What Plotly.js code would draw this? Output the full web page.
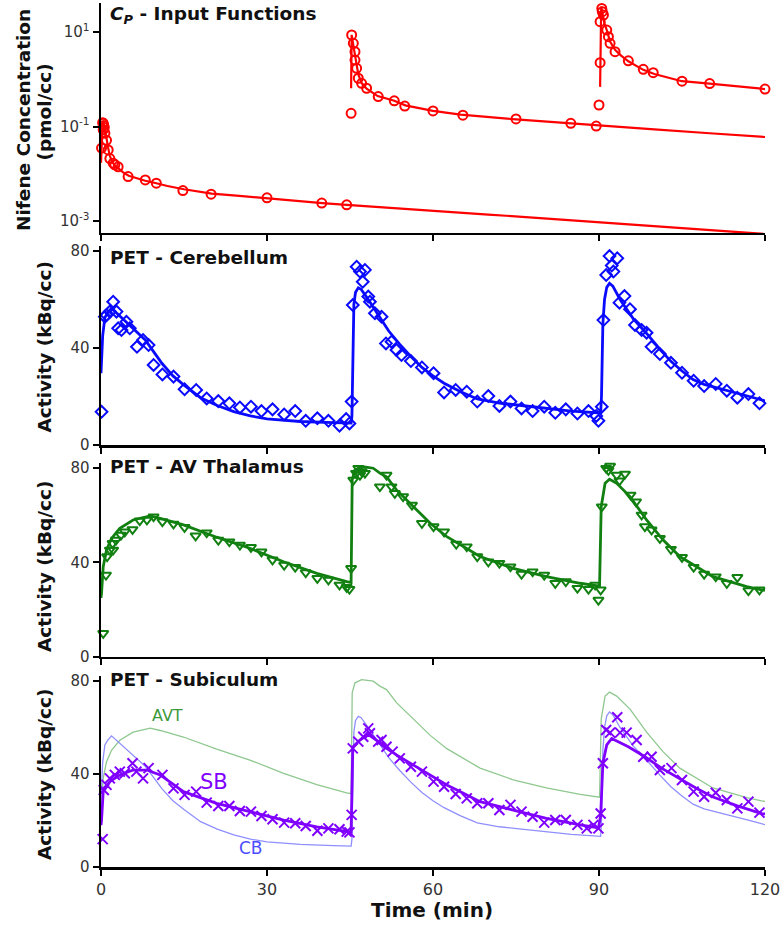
<!DOCTYPE html>
<html>
<head>
<meta charset="utf-8">
<script src="https://cdn.plot.ly/plotly-3.0.1.min.js"></script>
<style>html,body{margin:0;padding:0;background:#fff;}#chart{width:783px;height:929px;}</style>
</head>
<body>
<div id="chart"></div>
<script>
// ---------- Panel 1: plasma input function Cp (pmol/cc) ----------
const cpT = [0.1,0.3,0.4,0.5,0.6,0.7,0.4,1.0,1.3,1.6,2.2,2.5,3.1,4.9,8.0,10.0,14.8,19.9,30,39.9,44.4,
  45.2,45.3,45.6,45.9,45.9,46.2,46.5,47.1,48.0,50.1,53.0,54.9,60.0,65.4,75.0,84.9,89.5,
  90.0,90.2,90.2,90.5,90.6,90.8,91.4,91.7,92.0,92.9,95.3,98.0,99.8,105,110,120];
const cpV = [0.035,0.12,0.117,0.105,0.095,0.072,0.085,0.051,0.032,0.021,0.0167,0.0155,0.014,0.0087,0.0074,0.0063,0.0044,0.0037,0.0031,0.0024,0.0022,
  0.19,8.64,5.75,3.83,2.55,1.70,1.05,0.82,0.645,0.43,0.35,0.27,0.214,0.174,0.145,0.117,0.102,
  0.285,2.24,16.5,31.6,27,22.9,11.0,7.95,5.75,3.83,2.46,1.62,1.38,0.91,0.81,0.62];
const cpFit1T = [0,0.3,0.5,0.8,1.0,1.3,1.6,2.0,2.5,3.1,4,5,6.5,8,10,12,15,20,25,30,35,40,44.4,50,60,70,80,90,100,110,120];
const cpFit1V = [0.017,0.126,0.112,0.079,0.056,0.035,0.024,0.018,0.015,0.0132,0.0107,0.0091,0.0079,0.0071,0.0063,0.0055,0.0047,0.0038,0.0034,0.0030,0.0027,0.0024,0.0022,0.00197,0.00166,0.00137,0.00114,0.00094,0.00078,0.00064,0.00053];
const cpFit2T = [45.2,45.3,45.6,45.9,46.2,46.5,47.1,48.0,50,53,55,60,65,75,85,90,100,110,120];
const cpFit2V = [0.645,8.7,5.2,3.2,2.0,1.26,0.83,0.63,0.44,0.35,0.28,0.214,0.178,0.141,0.117,0.105,0.087,0.072,0.06];
const cpFit3T = [90.2,90.4,90.7,91.0,91.4,91.7,92.0,92.9,94,95.3,98,100,105,110,115,120];
const cpFit3V = [0.69,34.7,22.4,15.1,11,8.3,6.3,4.2,3.16,2.4,1.58,1.29,0.91,0.81,0.71,0.62];

// ---------- Panel 2: PET cerebellum (kBq/cc) ----------
const cbPtT = [0.1,0.7,1.0,1.6,2.2,2.8,3.1,3.7,4.6,5.2,6.5,7.6,8.6,9.5,11.1,13.1,15.1,17.2,19.1,21.2,23.2,25.1,27.1,29.0,31.0,33.1,35.1,37.0,39.1,41.1,43.1,44.3,44.9,
  45.3,45.5,46.2,46.8,47.7,47.3,48.3,48.6,49.5,50.7,51.5,52.5,53.4,54.3,56.0,58.0,60.1,62.0,64.1,66.1,68.0,70.0,72.0,74.0,76.0,78.0,80.1,82.1,84.0,86.1,88.1,89.5,89.9,
  90.5,90.8,91.3,91.9,92.3,92.6,93.3,93.7,94.6,95.6,96.5,97.7,98.6,99.5,101.0,103.0,105.0,107.1,109.0,111.1,113.1,115.0,117.0,119.0];
const cbPtV = [13.7,52.9,53.6,55,59.1,55,48.1,47.4,50.8,48.1,40.5,43.3,41.2,33,29.1,28.2,23,22.7,19.2,18.1,17.2,15.5,15.8,14,14.7,12.6,14,10,11,10,8,10.7,8.9,
  17.9,57.7,73.5,71.5,72.2,67.3,61.2,59.1,54.3,52.9,41.9,42.6,39.2,37.1,34.6,32,29.6,21.7,22.7,22,17.9,20.2,16.1,17.9,15.1,14,15.8,13.3,14.7,13,14,12,10,
  15.8,51.5,70.1,77.9,74,71.5,77,58.7,61.4,56,49.5,47.4,46.3,40.5,37.5,33.9,29.8,26.5,24.3,25.2,22.4,19.5,21,17.2];
const cbFitT = [0,0.3,0.7,1.2,1.9,3,4.9,6.5,8,9.5,11,13,15,18,21,24,27,30,36,42,45.2,
  45.35,45.5,45.7,46.0,46.5,47.0,48,50,52,54,56,58,60,62,65,68,72,76,80,85,90.3,
  90.45,90.7,91.0,91.4,91.9,92.5,93.8,96.2,98.6,101,103,105,107,109,111,113,115.5,117.5,120];
const cbFitV = [29.6,45,52.5,54.5,56.4,54,50.2,46.5,43.3,38.5,33.7,28.5,24.7,19.5,16.3,13.8,12,10.8,9.7,9.2,9.0,
  12,40,58,63,64.8,64.2,61,54,47,41.5,36.5,32,28.5,25.5,22,19,17.3,16.3,15.2,14,13.2,
  20,50,60,65,66.7,65.5,60,52,46,39.5,34.5,30.5,27,25,23.8,22.7,21.3,19.8,18.2];

// ---------- Panel 3: PET AV thalamus (kBq/cc) ----------
const thPtT = [0.4,0.9,1.1,1.6,2.2,2.1,2.7,3.6,4.3,5.7,7.0,8.3,9.5,11.1,13.1,15.1,17.1,19.1,21.2,23.2,25.1,27.1,29.0,31.0,33.1,35.1,37.0,39.1,41.1,43.1,44.4,44.9,
  45.2,45.6,46.1,46.5,46.8,47.1,47.7,50.4,51.6,52.5,53.1,54.6,56.2,58.0,60.1,62.0,64.2,66.1,68.0,70.0,72.0,74.0,76.0,78.0,80.1,82.1,84.0,86.1,88.1,89.3,89.9,90.3,
  90.5,91.3,91.7,92.0,93.2,93.7,94.7,95.7,96.7,97.7,98.3,99.5,101.0,103.0,105.0,107.1,109.0,111.1,113.1,115.0,117.0,119.0];
const thPtV = [10,34.7,42.5,45.3,45.3,48.1,49.5,51.6,53,54,57.7,58,59.4,57.3,56.3,54.9,51.3,52.6,49.5,48.8,47.4,46.4,44.5,41.1,38.9,38,35.7,33.3,32.6,30.5,29.5,28.7,
  37.5,74.9,77.8,79.9,77,78.5,77.8,72.1,77,72.1,69.3,67.9,64.3,56.6,55.2,53,47.8,46.7,42.5,40.3,39.7,38.2,35.1,36.1,34.7,31.2,31.9,29.1,28.7,30.5,24.1,28.4,
  63.6,79.9,79,80.8,77,74.6,77.5,68.6,65.7,60.1,55.2,53.8,50.2,45.6,42.2,38,35.1,34,31.2,33.7,28.1,28.4];
const thFitT = [0,0.1,0.4,1.0,1.9,3.4,5.8,8.9,10.7,14.9,20.9,26.9,33,39,44.4,45.2,
  45.4,45.9,47.1,49.2,50.4,51.6,53.4,56.4,59.5,62.5,65.5,68.5,74.5,80.5,86.6,90.1,
  90.4,91.1,91.9,93.2,95.6,98.6,101.6,104.6,110.6,116.7,119.4,120];
const thFitV = [25,27,38.2,45.3,50.2,54.5,58,59.7,58.7,55.9,50.7,46,40.3,35.4,31.9,31.5,
  75,79.2,80.6,79.9,77.8,76.3,70.7,63.6,56.6,50.9,46.7,42.5,37.5,34,31.2,30,
  63.6,73.5,75.2,73.5,67.9,58,49.5,42.5,34,29.8,28.4,28.2];

// ---------- Panel 4: PET subiculum (kBq/cc) ----------
const sbPtT = [0.3,0.5,1.0,1.6,2.5,3.4,4.3,5.7,6.4,7.6,8.6,11.1,13.1,15.1,17.2,19.1,21.2,23.2,25.1,27.1,29.0,31.0,33.1,35.1,37.0,39.1,41.1,43.1,44.4,44.9,
  45.3,45.5,46.5,47.4,48.3,48.6,50.1,50.7,51.6,52.7,54.0,56.0,58.0,60.1,62.0,64.1,66.1,68.0,70.0,72.0,74.0,76.0,78.0,80.1,82.1,84.0,86.1,87.8,89.0,89.9,
  90.3,90.7,91.3,92.0,93.3,93.8,95.0,96.8,98.0,99.5,101.0,103.1,105.0,107.1,109.0,111.1,113.1,115.0,117.0,119.0];
const sbPtV = [12,33.1,35.3,38.1,39.6,41,40.3,44.6,41,38.1,42.5,39.6,33.8,31,32.4,27.7,26.2,26.2,24.1,23.8,21.9,20.5,19.1,18.8,17.6,15.6,16.6,16.2,15.2,14.9,
  22.4,51,53.9,56,59.6,57.5,53.9,54.6,51.7,49.6,46.7,43.1,41,36.7,34.5,31.4,29.5,27.4,27.4,24.5,26.7,23.8,21.6,19.1,20.2,20.2,18.1,16.6,18.1,16.6,
  23,44.6,58.9,57.8,64.4,57.8,57.8,54.6,47.4,47.4,41.7,42.5,37.4,32.4,30.2,31.9,28.8,25.2,28.1,23.4];
const sbFitT = [0,0.1,0.4,1.6,3.4,5.8,8.3,10.7,14.9,20.9,26.9,33,39,44.4,45.2,
  45.5,46.8,48.3,49.8,51,53.4,56.4,59.5,62.5,65.5,68.5,74.5,80.5,86.6,89.9,
  90.3,90.7,91.4,92.3,95.3,98.3,101.3,104.4,107.5,110.5,115,119.4,120];
const sbFitV = [18,20.2,32.4,36.7,39.6,41.7,41.7,39.6,32.4,27.4,23.8,20.2,17.3,15.2,15.0,
  51.6,54.6,57,54.5,52,48.2,43.9,39.6,35.3,31.7,28.1,24.5,20.9,18.1,16.8,
  22,44.6,52.5,55.3,51.7,47.4,42.5,38.1,34,30.2,26.3,23,22.8];

// ---------- labels ----------
const xTickVals = [0, 30, 60, 90, 120];
const xTickText = ['0', '30', '60', '90', '120'];
const logTickVals = [0.001, 0.1, 10];
const logTickText = ['10<sup>-3</sup>', '10<sup>-1</sup>', '10<sup>1</sup>'];
const linTickVals = [0, 40, 80];
const panelTitles = ['<b><i>C</i></b><sub><b><i>P</i></b></sub><b> - Input Functions</b>', '<b>PET - Cerebellum</b>', '<b>PET - AV Thalamus</b>', '<b>PET - Subiculum</b>'];

const RED = '#ff0000', BLUE = '#0a0aff', GREEN = '#118011', PURPLE = '#7f00ff';

function line(x, y, xa, ya, color, width) {
  return {x: x, y: y, xaxis: xa, yaxis: ya, type: 'scatter', mode: 'lines',
          line: {color: color, width: width}, hoverinfo: 'skip', showlegend: false};
}
function pts(x, y, xa, ya, color, symbol, size) {
  return {x: x, y: y, xaxis: xa, yaxis: ya, type: 'scatter', mode: 'markers', cliponaxis: false,
          marker: {symbol: symbol, size: size, color: color, line: {color: color, width: 2}},
          hoverinfo: 'skip', showlegend: false};
}

const traces = [
  line(cpFit1T, cpFit1V, 'x', 'y', RED, 2.2),
  line(cpFit2T, cpFit2V, 'x', 'y', RED, 2.2),
  line(cpFit3T, cpFit3V, 'x', 'y', RED, 2.2),
  pts(cpT, cpV, 'x', 'y', RED, 'circle-open', 9),

  line(cbFitT, cbFitV, 'x2', 'y2', BLUE, 2.8),
  pts(cbPtT, cbPtV, 'x2', 'y2', BLUE, 'diamond-open', 9),

  line(thFitT, thFitV, 'x3', 'y3', GREEN, 2.8),
  pts(thPtT, thPtV, 'x3', 'y3', GREEN, 'triangle-down-open', 9),

  line(thFitT, thFitV, 'x4', 'y4', '#8fc88f', 1.3),
  line(cbFitT, cbFitV, 'x4', 'y4', '#8f8fff', 1.3),
  line(sbFitT, sbFitV, 'x4', 'y4', PURPLE, 2.8),
  pts(sbPtT, sbPtV, 'x4', 'y4', PURPLE, 'x-thin-open', 10)
];

const FONT = 'DejaVu Sans, Arial, sans-serif';
const tickFont = {family: FONT, size: 15, color: '#333'};

function xax(anchor, showLabels) {
  return {range: [0, 120], anchor: anchor, tickvals: xTickVals, ticktext: xTickText,
          showticklabels: showLabels, ticks: 'outside', ticklen: 6, tickwidth: 2, tickcolor: '#000',
          showline: true, linecolor: '#000', linewidth: 2.5, showgrid: false, zeroline: false,
          tickfont: {family: FONT, size: 16, color: '#333'}, fixedrange: true};
}
function yax(domain, extra) {
  return Object.assign({domain: domain, anchor: extra.anchor, ticks: 'outside', ticklen: 6, tickwidth: 2, tickcolor: '#000',
          showline: true, linecolor: '#000', linewidth: 2.5, showgrid: false, zeroline: false,
          tickfont: tickFont, fixedrange: true}, extra);
}

function pxX(px) { return (px - 101) / 664; }
function pxY(py) { return (867 - py) / 864; }

const bold = {family: FONT, size: 18.5, color: '#111'};
const annotations = [
  {text: panelTitles[0], x: pxX(108), y: pxY(15), xanchor: 'left', yanchor: 'middle'},
  {text: panelTitles[1], x: pxX(108), y: pxY(257), xanchor: 'left', yanchor: 'middle'},
  {text: panelTitles[2], x: pxX(108), y: pxY(467), xanchor: 'left', yanchor: 'middle'},
  {text: panelTitles[3], x: pxX(108), y: pxY(679), xanchor: 'left', yanchor: 'middle'},
  {text: '<b>Nifene Concentration</b>', x: pxX(24), y: pxY(120), textangle: -90},
  {text: '<b>(pmol/cc)</b>', x: pxX(44), y: pxY(112.5), textangle: -90},
  {text: '<b>Activity (kBq/cc)</b>', x: pxX(44), y: pxY(347.5), textangle: -90},
  {text: '<b>Activity (kBq/cc)</b>', x: pxX(44), y: pxY(567), textangle: -90},
  {text: '<b>Activity (kBq/cc)</b>', x: pxX(44), y: pxY(775), textangle: -90},
  {text: '<b>Time (min)</b>', x: pxX(432), y: pxY(910), font: {family: FONT, size: 20, color: '#111'}}
].map(a => Object.assign({xref: 'paper', yref: 'paper', showarrow: false, xanchor: 'center', yanchor: 'middle', font: bold}, a));

annotations.push(
  {text: 'AVT', x: 12.1, y: 65, xref: 'x4', yref: 'y4', showarrow: false, font: {family: FONT, size: 16, color: '#3c9a3c'}},
  {text: 'SB', x: 20.5, y: 36.7, xref: 'x4', yref: 'y4', showarrow: false, font: {family: FONT, size: 21, color: PURPLE}},
  {text: 'CB', x: 27.1, y: 8.3, xref: 'x4', yref: 'y4', showarrow: false, font: {family: FONT, size: 17, color: '#4c4cff'}}
);

const layout = {
  width: 783, height: 929,
  margin: {l: 101, r: 18, t: 3, b: 62},
  paper_bgcolor: '#fff', plot_bgcolor: '#fff',
  showlegend: false,
  xaxis: xax('y', false),
  xaxis2: xax('y2', false),
  xaxis3: xax('y3', false),
  xaxis4: xax('y4', true),
  yaxis: yax([0.7338, 1.0], {anchor: 'x', type: 'log', range: [-3.254, 1.614], tickvals: logTickVals, ticktext: logTickText}),
  yaxis2: yax([0.4884, 0.7186], {anchor: 'x2', range: [0, 82], tickvals: linTickVals}),
  yaxis3: yax([0.2431, 0.4673], {anchor: 'x3', range: [0, 82], tickvals: linTickVals}),
  yaxis4: yax([0, 0.2207], {anchor: 'x4', range: [0, 82], tickvals: linTickVals}),
  annotations: annotations
};

Plotly.newPlot('chart', traces, layout, {displayModeBar: false, staticPlot: true});
</script>
</body>
</html>
